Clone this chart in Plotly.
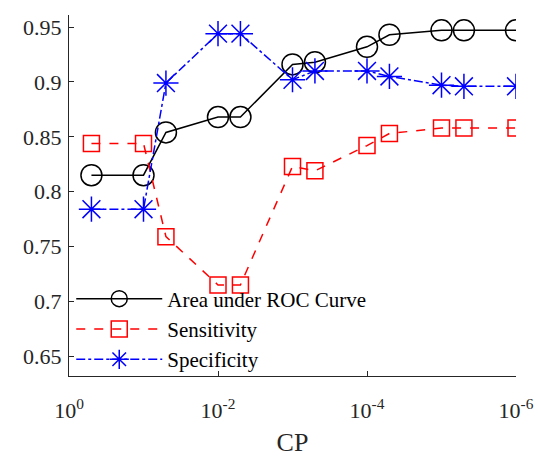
import plotly.graph_objects as go

cp = [0.5, 0.1, 0.05, 0.01, 0.005, 0.001, 5e-4, 1e-4, 5e-5, 1e-5, 5e-6, 1e-6]
auc = [0.815, 0.815, 0.854, 0.868, 0.868, 0.916, 0.918, 0.932, 0.943, 0.947, 0.947, 0.947]
sensitivity = [0.844, 0.844, 0.759, 0.715, 0.715, 0.823, 0.819, 0.842, 0.853, 0.858, 0.858, 0.858]
specificity = [0.784, 0.784, 0.899, 0.944, 0.944, 0.902, 0.910, 0.910, 0.905, 0.897, 0.896, 0.896]

x_tickvals = [1, 1e-2, 1e-4, 1e-6]
x_ticktext = ["10<sup>0</sup>", "10<sup>-2</sup>", "10<sup>-4</sup>", "10<sup>-6</sup>"]
y_tickvals = [0.65, 0.7, 0.75, 0.8, 0.85, 0.9, 0.95]
y_ticktext = ["0.65", "0.7", "0.75", "0.8", "0.85", "0.9", "0.95"]

font = "Liberation Serif, Times New Roman, serif"

fig = go.Figure()
fig.add_trace(go.Scatter(
    x=cp, y=auc, name="Area under ROC Curve", mode="lines+markers",
    line=dict(color="black", width=1.5, dash="solid"),
    marker=dict(symbol="circle-open", size=21, color="black", line=dict(width=1.5, color="black")),
))
fig.add_trace(go.Scatter(
    x=cp, y=sensitivity, name="Sensitivity", mode="lines+markers",
    line=dict(color="#ff0000", width=1.5, dash="dash"),
    marker=dict(symbol="square-open", size=16, color="#ff0000", line=dict(width=1.5, color="#ff0000")),
))
fig.add_trace(go.Scatter(
    x=cp, y=specificity, name="Specificity", mode="lines+markers",
    line=dict(color="#0000ff", width=1.5, dash="dashdot"),
    marker=dict(symbol="asterisk-open", size=21, color="#0000ff", line=dict(width=1.5, color="#0000ff")),
))

fig.update_layout(
    width=538, height=458,
    margin=dict(l=69, r=22, t=15, b=82),
    plot_bgcolor="white", paper_bgcolor="white",
    font=dict(family=font, size=22, color="#262626"),
    showlegend=True,
    legend=dict(
        x=0.005, y=0.27, xanchor="left", yanchor="top",
        bgcolor="rgba(255,255,255,0)", borderwidth=0,
        font=dict(family=font, size=21, color="black"),
        itemwidth=86, tracegroupgap=0,
    ),
)
fig.update_xaxes(
    type="log", range=[0, -6], automargin=False,
    tickvals=x_tickvals, ticktext=x_ticktext,
    ticks="inside", ticklen=5, tickcolor="#262626",
    showline=True, linecolor="#262626", linewidth=1,
    showgrid=False, zeroline=False,
    ticklabelstandoff=15,
    title=dict(text="CP", font=dict(family=font, size=26, color="#262626"), standoff=10),
    tickfont=dict(family=font, size=22, color="#262626"),
)
fig.update_yaxes(
    range=[0.632, 0.961], automargin=False,
    tickvals=y_tickvals, ticktext=y_ticktext,
    ticks="inside", ticklen=5, tickcolor="#262626",
    showline=True, linecolor="#262626", linewidth=1,
    showgrid=False, zeroline=False,
    ticklabelstandoff=2,
    tickfont=dict(family=font, size=22, color="#262626"),
)

fig.write_html("out.html")
